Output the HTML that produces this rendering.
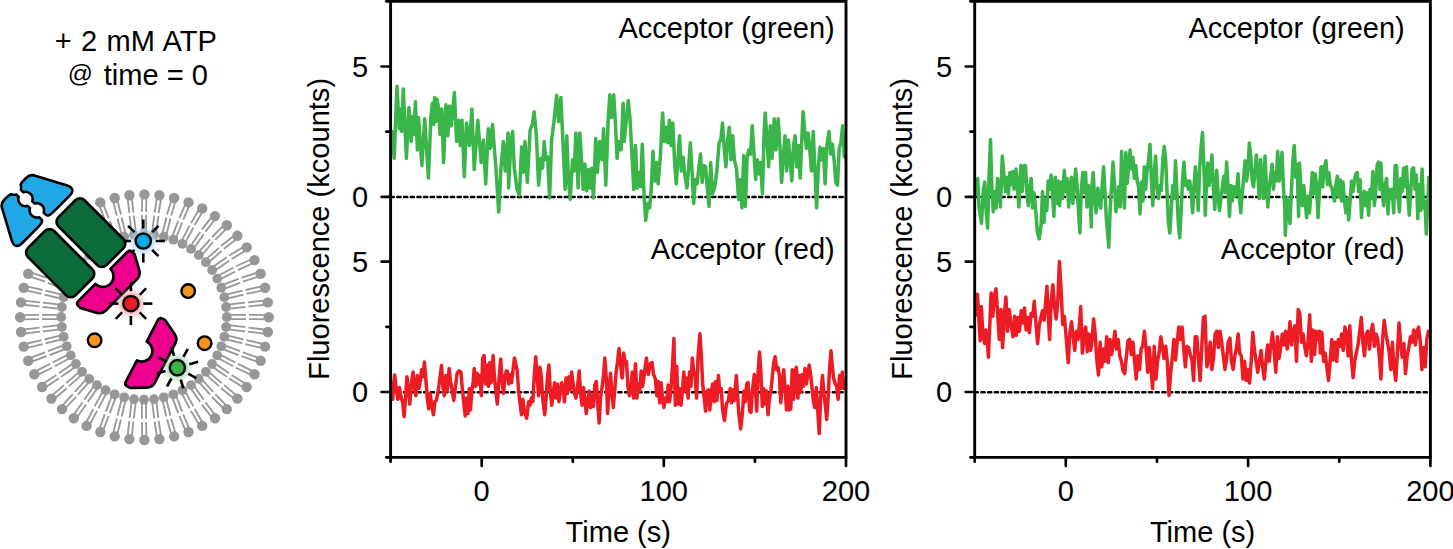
<!DOCTYPE html>
<html><head><meta charset="utf-8"><title>Figure</title><style>
html,body{margin:0;padding:0;background:#fff;}
body{width:1453px;height:549px;overflow:hidden;}
svg{display:block;}
text{font-family:"Liberation Sans",sans-serif;font-size:29.05px;fill:#000;}
</style></head><body>
<svg width="1453" height="549" viewBox="0 0 1453 549">
<rect width="1453" height="549" fill="#fff"/>

<g id="diagram">
<text x="135.9" y="50.6" text-anchor="middle" word-spacing="1.2">+ 2 mM ATP</text>
<text x="207.9" y="85.4" text-anchor="end" word-spacing="0">time = 0</text>
<text x="67.8" y="82.4" style="font-size:24.8px">@</text>
<g stroke="#979797" stroke-width="1.8"><line x1="268.7" y1="315.1" x2="249.0" y2="314.9"/><line x1="268.7" y1="319.3" x2="249.0" y2="319.1"/><line x1="226.7" y1="314.9" x2="246.0" y2="314.9"/><line x1="226.7" y1="319.1" x2="246.0" y2="319.1"/><line x1="268.0" y1="329.9" x2="248.5" y2="327.6"/><line x1="267.5" y1="334.1" x2="248.0" y2="331.7"/><line x1="226.4" y1="324.9" x2="245.5" y2="327.2"/><line x1="225.8" y1="329.1" x2="245.0" y2="331.4"/><line x1="265.6" y1="344.5" x2="246.5" y2="340.1"/><line x1="264.6" y1="348.6" x2="245.4" y2="344.2"/><line x1="224.8" y1="334.8" x2="243.5" y2="339.4"/><line x1="223.8" y1="338.8" x2="242.5" y2="343.4"/><line x1="261.4" y1="358.8" x2="242.9" y2="352.3"/><line x1="259.9" y1="362.7" x2="241.4" y2="356.2"/><line x1="222.1" y1="344.4" x2="240.1" y2="351.2"/><line x1="220.6" y1="348.3" x2="238.6" y2="355.1"/><line x1="255.4" y1="372.4" x2="237.9" y2="363.9"/><line x1="253.5" y1="376.1" x2="236.0" y2="367.7"/><line x1="218.2" y1="353.6" x2="235.3" y2="362.5"/><line x1="216.3" y1="357.3" x2="233.3" y2="366.3"/><line x1="247.9" y1="385.2" x2="231.6" y2="374.9"/><line x1="245.5" y1="388.7" x2="229.2" y2="378.4"/><line x1="213.3" y1="362.3" x2="229.1" y2="373.2"/><line x1="210.9" y1="365.7" x2="226.8" y2="376.7"/><line x1="238.8" y1="397.1" x2="224.0" y2="385.1"/><line x1="236.0" y1="400.2" x2="221.2" y2="388.2"/><line x1="207.3" y1="370.3" x2="221.7" y2="383.1"/><line x1="204.5" y1="373.4" x2="219.0" y2="386.2"/><line x1="228.4" y1="407.7" x2="215.2" y2="394.2"/><line x1="225.3" y1="410.5" x2="212.1" y2="397.0"/><line x1="200.4" y1="377.5" x2="213.2" y2="392.0"/><line x1="197.3" y1="380.3" x2="210.1" y2="394.7"/><line x1="216.7" y1="417.1" x2="205.4" y2="402.2"/><line x1="213.3" y1="419.5" x2="201.9" y2="404.6"/><line x1="192.7" y1="383.9" x2="203.7" y2="399.8"/><line x1="189.3" y1="386.3" x2="200.2" y2="402.1"/><line x1="204.0" y1="425.0" x2="194.7" y2="409.0"/><line x1="200.3" y1="426.9" x2="190.9" y2="410.9"/><line x1="184.3" y1="389.3" x2="193.3" y2="406.3"/><line x1="180.6" y1="391.2" x2="189.5" y2="408.3"/><line x1="190.4" y1="431.3" x2="183.2" y2="414.4"/><line x1="186.5" y1="432.8" x2="179.3" y2="415.9"/><line x1="175.3" y1="393.6" x2="182.1" y2="411.6"/><line x1="171.4" y1="395.1" x2="178.2" y2="413.1"/><line x1="176.2" y1="435.9" x2="171.2" y2="418.4"/><line x1="172.1" y1="436.9" x2="167.1" y2="419.5"/><line x1="165.8" y1="396.8" x2="170.4" y2="415.5"/><line x1="161.8" y1="397.8" x2="166.4" y2="416.5"/><line x1="161.5" y1="438.9" x2="158.7" y2="421.0"/><line x1="157.3" y1="439.4" x2="154.6" y2="421.5"/><line x1="156.1" y1="398.8" x2="158.4" y2="418.0"/><line x1="151.9" y1="399.4" x2="154.2" y2="418.5"/><line x1="146.5" y1="440.0" x2="146.1" y2="422.0"/><line x1="142.3" y1="440.0" x2="141.9" y2="422.0"/><line x1="146.1" y1="399.7" x2="146.1" y2="419.0"/><line x1="141.9" y1="399.7" x2="141.9" y2="419.0"/><line x1="131.5" y1="439.4" x2="133.4" y2="421.5"/><line x1="127.3" y1="438.9" x2="129.3" y2="421.0"/><line x1="136.1" y1="399.4" x2="133.8" y2="418.5"/><line x1="131.9" y1="398.8" x2="129.6" y2="418.0"/><line x1="116.7" y1="436.9" x2="120.9" y2="419.5"/><line x1="112.6" y1="435.9" x2="116.8" y2="418.4"/><line x1="126.2" y1="397.8" x2="121.6" y2="416.5"/><line x1="122.2" y1="396.8" x2="117.6" y2="415.5"/><line x1="102.3" y1="432.8" x2="108.7" y2="415.9"/><line x1="98.4" y1="431.3" x2="104.8" y2="414.4"/><line x1="116.6" y1="395.1" x2="109.8" y2="413.1"/><line x1="112.7" y1="393.6" x2="105.9" y2="411.6"/><line x1="88.5" y1="426.9" x2="97.1" y2="410.9"/><line x1="84.8" y1="425.0" x2="93.3" y2="409.0"/><line x1="107.4" y1="391.2" x2="98.5" y2="408.3"/><line x1="103.7" y1="389.3" x2="94.7" y2="406.3"/><line x1="75.5" y1="419.5" x2="86.1" y2="404.6"/><line x1="72.1" y1="417.1" x2="82.6" y2="402.2"/><line x1="98.7" y1="386.3" x2="87.8" y2="402.1"/><line x1="95.3" y1="383.9" x2="84.3" y2="399.8"/><line x1="63.5" y1="410.5" x2="75.9" y2="397.0"/><line x1="60.4" y1="407.7" x2="72.8" y2="394.2"/><line x1="90.7" y1="380.3" x2="77.9" y2="394.7"/><line x1="87.6" y1="377.5" x2="74.8" y2="392.0"/><line x1="52.8" y1="400.2" x2="66.8" y2="388.2"/><line x1="50.0" y1="397.1" x2="64.0" y2="385.1"/><line x1="83.5" y1="373.4" x2="69.0" y2="386.2"/><line x1="80.7" y1="370.3" x2="66.3" y2="383.1"/><line x1="43.3" y1="388.7" x2="58.8" y2="378.4"/><line x1="40.9" y1="385.2" x2="56.4" y2="374.9"/><line x1="77.1" y1="365.7" x2="61.2" y2="376.7"/><line x1="74.7" y1="362.3" x2="58.9" y2="373.2"/><line x1="35.3" y1="376.1" x2="52.0" y2="367.7"/><line x1="33.4" y1="372.4" x2="50.1" y2="363.9"/><line x1="71.7" y1="357.3" x2="54.7" y2="366.3"/><line x1="69.8" y1="353.6" x2="52.7" y2="362.5"/><line x1="28.9" y1="362.7" x2="46.6" y2="356.2"/><line x1="27.4" y1="358.8" x2="45.1" y2="352.3"/><line x1="67.4" y1="348.3" x2="49.4" y2="355.1"/><line x1="65.9" y1="344.4" x2="47.9" y2="351.2"/><line x1="24.2" y1="348.6" x2="42.6" y2="344.2"/><line x1="23.2" y1="344.5" x2="41.5" y2="340.1"/><line x1="64.2" y1="338.8" x2="45.5" y2="343.4"/><line x1="63.2" y1="334.8" x2="44.5" y2="339.4"/><line x1="21.3" y1="334.1" x2="40.0" y2="331.7"/><line x1="20.8" y1="329.9" x2="39.5" y2="327.6"/><line x1="62.2" y1="329.1" x2="43.0" y2="331.4"/><line x1="61.6" y1="324.9" x2="42.5" y2="327.2"/><line x1="20.1" y1="319.3" x2="39.0" y2="319.1"/><line x1="20.1" y1="315.1" x2="39.0" y2="314.9"/><line x1="61.3" y1="319.1" x2="42.0" y2="319.1"/><line x1="61.3" y1="314.9" x2="42.0" y2="314.9"/><line x1="20.8" y1="304.5" x2="39.5" y2="306.4"/><line x1="21.3" y1="300.3" x2="40.0" y2="302.3"/><line x1="61.6" y1="309.1" x2="42.5" y2="306.8"/><line x1="62.2" y1="304.9" x2="43.0" y2="302.6"/><line x1="23.2" y1="289.9" x2="41.5" y2="293.9"/><line x1="24.2" y1="285.8" x2="42.6" y2="289.8"/><line x1="63.2" y1="299.2" x2="44.5" y2="294.6"/><line x1="64.2" y1="295.2" x2="45.5" y2="290.6"/><line x1="27.4" y1="275.6" x2="45.1" y2="281.7"/><line x1="28.9" y1="271.7" x2="46.6" y2="277.8"/><line x1="65.9" y1="289.6" x2="47.9" y2="282.8"/><line x1="67.4" y1="285.7" x2="49.4" y2="278.9"/><line x1="69.8" y1="280.4" x2="52.7" y2="271.5"/><line x1="71.7" y1="276.7" x2="54.7" y2="267.7"/><line x1="74.7" y1="271.7" x2="58.9" y2="260.8"/><line x1="77.1" y1="268.3" x2="61.2" y2="257.3"/><line x1="80.7" y1="263.7" x2="66.3" y2="250.9"/><line x1="83.5" y1="260.6" x2="69.0" y2="247.8"/><line x1="87.6" y1="256.5" x2="74.8" y2="242.0"/><line x1="90.7" y1="253.7" x2="77.9" y2="239.3"/><line x1="95.3" y1="250.1" x2="84.3" y2="234.2"/><line x1="98.7" y1="247.7" x2="87.8" y2="231.9"/><line x1="103.7" y1="244.7" x2="94.7" y2="227.7"/><line x1="107.4" y1="242.8" x2="98.5" y2="225.7"/><line x1="98.4" y1="203.1" x2="104.8" y2="219.6"/><line x1="102.3" y1="201.6" x2="108.7" y2="218.1"/><line x1="112.7" y1="240.4" x2="105.9" y2="222.4"/><line x1="116.6" y1="238.9" x2="109.8" y2="220.9"/><line x1="112.6" y1="198.5" x2="116.8" y2="215.6"/><line x1="116.7" y1="197.5" x2="120.9" y2="214.5"/><line x1="122.2" y1="237.2" x2="117.6" y2="218.5"/><line x1="126.2" y1="236.2" x2="121.6" y2="217.5"/><line x1="127.3" y1="195.5" x2="129.3" y2="213.0"/><line x1="131.5" y1="195.0" x2="133.4" y2="212.5"/><line x1="131.9" y1="235.2" x2="129.6" y2="216.0"/><line x1="136.1" y1="234.6" x2="133.8" y2="215.5"/><line x1="142.3" y1="194.4" x2="141.9" y2="212.0"/><line x1="146.5" y1="194.4" x2="146.1" y2="212.0"/><line x1="141.9" y1="234.3" x2="141.9" y2="215.0"/><line x1="146.1" y1="234.3" x2="146.1" y2="215.0"/><line x1="157.3" y1="195.0" x2="154.6" y2="212.5"/><line x1="161.5" y1="195.5" x2="158.7" y2="213.0"/><line x1="151.9" y1="234.6" x2="154.2" y2="215.5"/><line x1="156.1" y1="235.2" x2="158.4" y2="216.0"/><line x1="172.1" y1="197.5" x2="167.1" y2="214.5"/><line x1="176.2" y1="198.5" x2="171.2" y2="215.6"/><line x1="161.8" y1="236.2" x2="166.4" y2="217.5"/><line x1="165.8" y1="237.2" x2="170.4" y2="218.5"/><line x1="186.5" y1="201.6" x2="179.3" y2="218.1"/><line x1="190.4" y1="203.1" x2="183.2" y2="219.6"/><line x1="171.4" y1="238.9" x2="178.2" y2="220.9"/><line x1="175.3" y1="240.4" x2="182.1" y2="222.4"/><line x1="200.3" y1="207.5" x2="190.9" y2="223.1"/><line x1="204.0" y1="209.4" x2="194.7" y2="225.0"/><line x1="180.6" y1="242.8" x2="189.5" y2="225.7"/><line x1="184.3" y1="244.7" x2="193.3" y2="227.7"/><line x1="213.3" y1="214.9" x2="201.9" y2="229.4"/><line x1="216.7" y1="217.3" x2="205.4" y2="231.8"/><line x1="189.3" y1="247.7" x2="200.2" y2="231.9"/><line x1="192.7" y1="250.1" x2="203.7" y2="234.2"/><line x1="225.3" y1="223.9" x2="212.1" y2="237.0"/><line x1="228.4" y1="226.7" x2="215.2" y2="239.8"/><line x1="197.3" y1="253.7" x2="210.1" y2="239.3"/><line x1="200.4" y1="256.5" x2="213.2" y2="242.0"/><line x1="236.0" y1="234.2" x2="221.2" y2="245.8"/><line x1="238.8" y1="237.3" x2="224.0" y2="248.9"/><line x1="204.5" y1="260.6" x2="219.0" y2="247.8"/><line x1="207.3" y1="263.7" x2="221.7" y2="250.9"/><line x1="245.5" y1="245.7" x2="229.2" y2="255.6"/><line x1="247.9" y1="249.2" x2="231.6" y2="259.1"/><line x1="210.9" y1="268.3" x2="226.8" y2="257.3"/><line x1="213.3" y1="271.7" x2="229.1" y2="260.8"/><line x1="253.5" y1="258.3" x2="236.0" y2="266.3"/><line x1="255.4" y1="262.0" x2="237.9" y2="270.1"/><line x1="216.3" y1="276.7" x2="233.3" y2="267.7"/><line x1="218.2" y1="280.4" x2="235.3" y2="271.5"/><line x1="259.9" y1="271.7" x2="241.4" y2="277.8"/><line x1="261.4" y1="275.6" x2="242.9" y2="281.7"/><line x1="220.6" y1="285.7" x2="238.6" y2="278.9"/><line x1="222.1" y1="289.6" x2="240.1" y2="282.8"/><line x1="264.6" y1="285.8" x2="245.4" y2="289.8"/><line x1="265.6" y1="289.9" x2="246.5" y2="293.9"/><line x1="223.8" y1="295.2" x2="242.5" y2="290.6"/><line x1="224.8" y1="299.2" x2="243.5" y2="294.6"/><line x1="267.5" y1="300.3" x2="248.0" y2="302.3"/><line x1="268.0" y1="304.5" x2="248.5" y2="306.4"/><line x1="225.8" y1="304.9" x2="245.0" y2="302.6"/><line x1="226.4" y1="309.1" x2="245.5" y2="306.8"/></g>
<g fill="#979797"><circle cx="268.7" cy="317.2" r="5.2"/><circle cx="226.7" cy="317.0" r="4.9"/><circle cx="267.8" cy="332.0" r="5.2"/><circle cx="226.1" cy="327.0" r="4.9"/><circle cx="265.1" cy="346.6" r="5.2"/><circle cx="224.3" cy="336.8" r="4.9"/><circle cx="260.6" cy="360.7" r="5.2"/><circle cx="221.3" cy="346.3" r="4.9"/><circle cx="254.5" cy="374.3" r="5.2"/><circle cx="217.2" cy="355.4" r="4.9"/><circle cx="246.7" cy="387.0" r="5.2"/><circle cx="212.1" cy="364.0" r="4.9"/><circle cx="237.4" cy="398.6" r="5.2"/><circle cx="205.9" cy="371.8" r="4.9"/><circle cx="226.8" cy="409.1" r="5.2"/><circle cx="198.8" cy="378.9" r="4.9"/><circle cx="215.0" cy="418.3" r="5.2"/><circle cx="191.0" cy="385.1" r="4.9"/><circle cx="202.2" cy="425.9" r="5.2"/><circle cx="182.4" cy="390.2" r="4.9"/><circle cx="188.5" cy="432.0" r="5.2"/><circle cx="173.3" cy="394.3" r="4.9"/><circle cx="174.1" cy="436.4" r="5.2"/><circle cx="163.8" cy="397.3" r="4.9"/><circle cx="159.4" cy="439.1" r="5.2"/><circle cx="154.0" cy="399.1" r="4.9"/><circle cx="144.4" cy="440.0" r="5.2"/><circle cx="144.0" cy="399.7" r="4.9"/><circle cx="129.4" cy="439.1" r="5.2"/><circle cx="134.0" cy="399.1" r="4.9"/><circle cx="114.7" cy="436.4" r="5.2"/><circle cx="124.2" cy="397.3" r="4.9"/><circle cx="100.3" cy="432.0" r="5.2"/><circle cx="114.7" cy="394.3" r="4.9"/><circle cx="86.6" cy="425.9" r="5.2"/><circle cx="105.6" cy="390.2" r="4.9"/><circle cx="73.8" cy="418.3" r="5.2"/><circle cx="97.0" cy="385.1" r="4.9"/><circle cx="62.0" cy="409.1" r="5.2"/><circle cx="89.2" cy="378.9" r="4.9"/><circle cx="51.4" cy="398.6" r="5.2"/><circle cx="82.1" cy="371.8" r="4.9"/><circle cx="42.1" cy="387.0" r="5.2"/><circle cx="75.9" cy="364.0" r="4.9"/><circle cx="34.3" cy="374.3" r="5.2"/><circle cx="70.8" cy="355.4" r="4.9"/><circle cx="28.2" cy="360.7" r="5.2"/><circle cx="66.7" cy="346.3" r="4.9"/><circle cx="23.7" cy="346.6" r="5.2"/><circle cx="63.7" cy="336.8" r="4.9"/><circle cx="21.0" cy="332.0" r="5.2"/><circle cx="61.9" cy="327.0" r="4.9"/><circle cx="20.1" cy="317.2" r="5.2"/><circle cx="61.3" cy="317.0" r="4.9"/><circle cx="21.0" cy="302.4" r="5.2"/><circle cx="61.9" cy="307.0" r="4.9"/><circle cx="23.7" cy="287.8" r="5.2"/><circle cx="63.7" cy="297.2" r="4.9"/><circle cx="28.2" cy="273.7" r="5.2"/><circle cx="66.7" cy="287.7" r="4.9"/><circle cx="70.8" cy="278.6" r="4.9"/><circle cx="75.9" cy="270.0" r="4.9"/><circle cx="82.1" cy="262.2" r="4.9"/><circle cx="89.2" cy="255.1" r="4.9"/><circle cx="97.0" cy="248.9" r="4.9"/><circle cx="105.6" cy="243.8" r="4.9"/><circle cx="100.3" cy="202.4" r="5.2"/><circle cx="114.7" cy="239.7" r="4.9"/><circle cx="114.7" cy="198.0" r="5.2"/><circle cx="124.2" cy="236.7" r="4.9"/><circle cx="129.4" cy="195.3" r="5.2"/><circle cx="134.0" cy="234.9" r="4.9"/><circle cx="144.4" cy="194.4" r="5.2"/><circle cx="144.0" cy="234.3" r="4.9"/><circle cx="159.4" cy="195.3" r="5.2"/><circle cx="154.0" cy="234.9" r="4.9"/><circle cx="174.1" cy="198.0" r="5.2"/><circle cx="163.8" cy="236.7" r="4.9"/><circle cx="188.5" cy="202.4" r="5.2"/><circle cx="173.3" cy="239.7" r="4.9"/><circle cx="202.2" cy="208.5" r="5.2"/><circle cx="182.4" cy="243.8" r="4.9"/><circle cx="215.0" cy="216.1" r="5.2"/><circle cx="191.0" cy="248.9" r="4.9"/><circle cx="226.8" cy="225.3" r="5.2"/><circle cx="198.8" cy="255.1" r="4.9"/><circle cx="237.4" cy="235.8" r="5.2"/><circle cx="205.9" cy="262.2" r="4.9"/><circle cx="246.7" cy="247.4" r="5.2"/><circle cx="212.1" cy="270.0" r="4.9"/><circle cx="254.5" cy="260.1" r="5.2"/><circle cx="217.2" cy="278.6" r="4.9"/><circle cx="260.6" cy="273.7" r="5.2"/><circle cx="221.3" cy="287.7" r="4.9"/><circle cx="265.1" cy="287.8" r="5.2"/><circle cx="224.3" cy="297.2" r="4.9"/><circle cx="267.8" cy="302.4" r="5.2"/><circle cx="226.1" cy="307.0" r="4.9"/></g>
<radialGradient id="gb"><stop offset="0.55" stop-color="#a9dcf5" stop-opacity="0.8"/><stop offset="1" stop-color="#a9dcf5" stop-opacity="0"/></radialGradient><circle cx="143.3" cy="241.0" r="15.5" fill="url(#gb)"/><g stroke="#000" stroke-width="2.6"><line x1="155.7" y1="241.0" x2="164.8" y2="241.0"/><line x1="152.1" y1="249.8" x2="158.5" y2="256.2"/><line x1="143.3" y1="253.4" x2="143.3" y2="262.5"/><line x1="134.5" y1="249.8" x2="128.1" y2="256.2"/><line x1="130.9" y1="241.0" x2="121.8" y2="241.0"/><line x1="134.5" y1="232.2" x2="128.1" y2="225.8"/><line x1="143.3" y1="228.6" x2="143.3" y2="219.5"/><line x1="152.1" y1="232.2" x2="158.5" y2="225.8"/></g><circle cx="143.3" cy="241.0" r="7.6" fill="#00aeef" stroke="#000" stroke-width="2.5"/>
<rect x="194.85000000000002" y="3.2" width="67.9" height="36.9" rx="6.5" ry="6.5" transform="matrix(0.70710678,0.70710678,0.70710678,-0.70710678,-86.19631648200001,86.19631648200001)" fill="#0b6b3a" stroke="#000" stroke-width="2.6"/>
<rect x="195.10000000000002" y="3.2" width="67.1" height="36.9" rx="6.5" ry="6.5" transform="matrix(0.70710678,0.70710678,-0.70710678,0.70710678,-86.19631648200001,86.19631648200001)" fill="#0b6b3a" stroke="#000" stroke-width="2.6"/>
<path d="M145.2,6.71 Q144.3,8.5 144.3,11 L144.3,15.5 Q144.3,21.6 150,23.7 L178,38.8 Q187.6,43.6 187.6,33 L187.6,11 Q187.6,3.25 184.48,3.25 L181.22,3.25 A7.2,7.2 0 0 1 168.38,3.25 L165.12,3.25 A7.2,7.2 0 0 1 152.28,3.25 L149.02,3.25 A7.2,7.2 0 0 1 145.2,6.71 Z" transform="matrix(0.70710678,0.70710678,0.70710678,-0.70710678,-86.76200190600001,86.76200190600001)" fill="#22a7e6" stroke="#000" stroke-width="2.6" stroke-linejoin="round"/>
<path d="M145.2,6.71 Q144.3,8.5 144.3,11 L144.3,15.5 Q144.3,21.6 150,23.7 L178,38.8 Q187.6,43.6 187.6,33 L187.6,11 Q187.6,3.25 184.48,3.25 L181.22,3.25 A7.2,7.2 0 0 1 168.38,3.25 L165.12,3.25 A7.2,7.2 0 0 1 152.28,3.25 L149.02,3.25 A7.2,7.2 0 0 1 145.2,6.71 Z" transform="matrix(0.70710678,0.70710678,-0.70710678,0.70710678,-86.76200190600001,86.76200190600001)" fill="#22a7e6" stroke="#000" stroke-width="2.6" stroke-linejoin="round"/>
<path d="M268.2,10.6 L268.2,34.6 Q268.2,38.2 271.59999999999997,38.2 L274.8,38.2 L289.2,30.4 Q294.4,27.6 294.4,22 L294.4,-22 Q294.4,-27.6 289.2,-30.4 L274.8,-38.2 L271.59999999999997,-38.2 Q268.2,-38.2 268.2,-34.6 L268.2,-10.6 A10.6,10.6 0 0 1 268.2,10.6 Z" transform="matrix(0.70710678,0.70710678,0.70710678,-0.70710678,-86.76200190600001,86.76200190600001)" fill="#ec008c" stroke="#000" stroke-width="2.6" stroke-linejoin="round"/>
<path d="M268.2,10.6 L268.2,34.6 Q268.2,38.2 271.59999999999997,38.2 L274.8,38.2 L289.2,30.4 Q294.4,27.6 294.4,22 L294.4,-22 Q294.4,-27.6 289.2,-30.4 L274.8,-38.2 L271.59999999999997,-38.2 Q268.2,-38.2 268.2,-34.6 L268.2,-10.6 A10.6,10.6 0 0 1 268.2,10.6 Z" transform="matrix(0.88701,0.46175,0.46175,-0.88701,-96.096,227.159)" fill="#ec008c" stroke="#000" stroke-width="2.6" stroke-linejoin="round"/>
<circle cx="188.2" cy="291.1" r="6.8" fill="#f7931e" stroke="#000" stroke-width="2.4"/>
<circle cx="94.6" cy="340.3" r="6.8" fill="#f7931e" stroke="#000" stroke-width="2.4"/>
<circle cx="204.6" cy="343.2" r="6.8" fill="#f7931e" stroke="#000" stroke-width="2.4"/>
<radialGradient id="gr"><stop offset="0.55" stop-color="#f5a3a6" stop-opacity="0.8"/><stop offset="1" stop-color="#f5a3a6" stop-opacity="0"/></radialGradient><circle cx="130.9" cy="303.6" r="15.5" fill="url(#gr)"/><g stroke="#000" stroke-width="2.6"><line x1="143.3" y1="303.6" x2="152.4" y2="303.6"/><line x1="139.7" y1="312.4" x2="146.1" y2="318.8"/><line x1="130.9" y1="316.0" x2="130.9" y2="325.1"/><line x1="122.1" y1="312.4" x2="115.7" y2="318.8"/><line x1="118.5" y1="303.6" x2="109.4" y2="303.6"/><line x1="122.1" y1="294.8" x2="115.7" y2="288.4"/><line x1="130.9" y1="291.2" x2="130.9" y2="282.1"/><line x1="139.7" y1="294.8" x2="146.1" y2="288.4"/></g><circle cx="130.9" cy="303.6" r="7.6" fill="#ed1c24" stroke="#000" stroke-width="2.5"/>
<radialGradient id="gg"><stop offset="0.55" stop-color="#a6dcae" stop-opacity="0.8"/><stop offset="1" stop-color="#a6dcae" stop-opacity="0"/></radialGradient><circle cx="177.4" cy="367.7" r="15.5" fill="url(#gg)"/><g stroke="#000" stroke-width="2.6"><line x1="189.3" y1="364.3" x2="198.1" y2="361.8"/><line x1="188.2" y1="373.7" x2="196.2" y2="378.1"/><line x1="180.8" y1="379.6" x2="183.3" y2="388.4"/><line x1="171.4" y1="378.5" x2="167.0" y2="386.5"/><line x1="165.5" y1="371.1" x2="156.7" y2="373.6"/><line x1="166.6" y1="361.7" x2="158.6" y2="357.3"/><line x1="174.0" y1="355.8" x2="171.5" y2="347.0"/><line x1="183.4" y1="356.9" x2="187.8" y2="348.9"/></g><circle cx="177.4" cy="367.7" r="7.6" fill="#39b54a" stroke="#000" stroke-width="2.5"/>
</g>
<g id="panel1">
<line x1="390.6" y1="196.9" x2="846.0" y2="196.9" stroke="#000" stroke-width="2.5" stroke-dasharray="3.2 3.5" stroke-linecap="round"/>
<line x1="390.6" y1="392.3" x2="846.0" y2="392.3" stroke="#000" stroke-width="2.5" stroke-dasharray="3.2 3.5" stroke-linecap="round"/>
<path d="M392.0,131.5 L394.2,158.3 L397.0,86.3 L399.3,128.7 L400.4,108.9 L401.6,131.5 L403.3,89.1 L406.4,158.3 L408.9,107.5 L411.2,141.4 L412.9,116.0 L414.0,134.3 L415.4,101.8 L417.4,149.9 L418.5,117.4 L421.9,165.4 L424.7,118.8 L428.4,178.1 L430.9,117.4 L432.4,103.2 L433.5,124.4 L434.6,97.6 L435.7,121.6 L436.9,99.0 L438.3,106.1 L440.0,134.3 L441.7,108.9 L443.6,162.6 L445.9,104.7 L447.9,135.7 L449.6,106.1 L451.3,125.8 L454.4,92.5 L456.6,141.4 L458.6,120.2 L460.3,145.6 L462.0,120.2 L464.3,176.7 L466.5,123.0 L469.4,145.6 L471.9,108.9 L474.2,169.6 L477.8,120.2 L481.2,162.6 L483.5,140.0 L485.7,183.8 L488.3,128.7 L490.3,148.4 L492.5,124.4 L495.9,168.2 L498.7,212.0 L501.0,168.2 L503.3,141.4 L505.2,171.0 L508.1,132.9 L508.6,188.0 L510.9,142.8 L512.6,131.5 L514.3,168.2 L517.1,189.4 L519.4,195.1 L521.6,147.0 L523.3,172.5 L525.0,141.4 L527.3,182.3 L530.1,130.1 L532.4,124.4 L534.1,111.7 L536.3,134.3 L538.6,185.2 L540.9,158.3 L542.5,168.2 L544.2,141.4 L545.9,159.7 L547.6,156.9 L549.6,197.9 L551.6,140.0 L553.8,123.0 L556.7,95.3 L558.6,121.6 L560.9,97.6 L562.9,141.4 L565.1,189.4 L566.8,135.7 L568.5,180.9 L570.2,199.3 L572.5,159.7 L574.2,171.0 L575.9,132.9 L578.1,188.0 L579.8,132.9 L582.1,168.2 L583.2,189.4 L584.9,164.0 L586.6,190.8 L588.3,169.6 L590.0,188.0 L591.7,168.2 L593.4,197.9 L595.7,138.6 L597.4,172.5 L599.6,141.4 L601.9,159.7 L603.6,128.7 L605.8,185.2 L608.1,121.6 L609.8,94.8 L611.5,117.4 L613.7,94.8 L615.4,123.0 L617.1,158.3 L618.8,141.4 L621.1,149.9 L623.1,103.2 L624.2,141.4 L625.9,124.4 L628.2,100.4 L629.9,117.4 L632.1,156.9 L633.8,189.4 L635.5,145.6 L637.2,188.0 L638.9,172.5 L640.6,186.6 L642.3,144.2 L644.0,193.6 L645.7,220.5 L647.9,203.5 L649.6,207.8 L651.3,188.0 L653.0,151.3 L654.7,180.9 L656.4,162.6 L658.1,183.8 L660.4,155.5 L662.6,113.1 L664.3,141.4 L666.0,127.3 L667.7,142.8 L669.4,120.2 L671.1,145.6 L672.8,123.0 L674.5,159.7 L676.2,183.8 L677.9,159.7 L679.6,135.7 L681.3,171.0 L683.0,156.9 L684.7,173.9 L686.9,188.0 L688.6,168.2 L690.3,142.8 L692.0,171.0 L693.7,203.5 L695.4,179.5 L697.1,183.8 L698.8,168.2 L700.5,154.1 L702.2,182.3 L703.9,165.4 L705.6,166.8 L707.3,188.0 L709.0,206.4 L710.7,162.6 L712.4,193.6 L714.6,188.0 L716.9,171.0 L719.1,142.8 L720.8,140.0 L722.5,123.0 L724.2,148.4 L725.9,166.8 L727.6,140.0 L729.3,127.3 L731.0,159.7 L732.7,135.7 L734.4,159.7 L736.6,169.6 L737.0,176.7 L738.6,199.3 L740.3,179.5 L742.0,207.8 L743.7,155.5 L745.4,206.4 L747.1,158.3 L748.8,149.9 L750.5,154.1 L752.2,125.8 L753.9,151.3 L755.6,179.5 L757.3,159.7 L759.0,173.9 L760.7,162.6 L762.4,193.6 L764.1,132.9 L765.2,113.1 L766.9,137.1 L768.6,166.8 L770.3,125.8 L772.0,158.3 L774.2,118.8 L775.9,149.9 L778.2,118.8 L779.9,145.6 L781.6,182.3 L783.3,156.9 L785.0,135.7 L786.7,171.0 L788.4,140.0 L790.1,159.7 L791.8,180.9 L793.5,145.6 L795.1,135.7 L796.8,166.8 L798.5,145.6 L800.2,178.1 L801.9,137.1 L803.1,111.7 L804.8,132.9 L806.4,148.4 L808.1,132.9 L809.8,149.9 L811.5,171.0 L813.2,131.5 L814.9,168.2 L816.6,207.8 L818.3,168.2 L820.0,147.0 L821.7,159.7 L823.4,148.4 L825.1,183.8 L826.8,145.6 L829.0,131.5 L830.7,154.1 L832.4,144.2 L834.1,159.7 L835.8,182.3 L837.5,185.2 L839.2,148.4 L840.9,142.8 L842.6,125.8 L844.3,156.9 L845,141.4" fill="none" stroke="#39b54a" stroke-width="3.5" stroke-linejoin="round" stroke-linecap="round"/>
<path d="M391.5,382.7 L392.7,399.3 L394.6,374.9 L396.5,391.0 L397.9,399.3 L399.4,387.5 L401.3,398.1 L402.7,402.8 L404.1,416.6 L406.0,391.0 L406.9,376.8 L408.4,388.6 L409.8,404.0 L411.2,385.1 L413.1,372.1 L414.5,388.6 L415.9,395.7 L417.3,375.6 L418.8,388.6 L420.2,381.5 L421.6,369.7 L423.0,376.8 L424.4,362.1 L425.9,380.4 L427.3,398.1 L428.7,408.8 L430.1,393.4 L431.6,404.0 L433.4,414.7 L434.9,401.7 L436.3,400.5 L438.2,391.0 L440.1,376.8 L441.5,365.4 L442.9,386.3 L444.3,395.7 L445.8,375.6 L447.2,391.0 L449.1,368.5 L450.5,381.5 L451.9,388.6 L453.8,400.5 L455.2,388.6 L457.1,373.3 L459.0,370.9 L460.9,372.1 L462.3,388.6 L463.7,401.7 L465.2,415.9 L466.6,398.1 L468.0,413.5 L469.4,388.6 L470.4,409.9 L471.8,391.0 L473.2,381.5 L474.2,368.5 L475.6,386.3 L477.0,373.3 L478.4,383.9 L479.8,375.6 L481.3,395.7 L482.7,357.9 L484.1,355.5 L485.5,383.9 L486.9,365.0 L488.4,386.3 L489.8,362.6 L491.2,382.7 L493.1,355.5 L494.5,378.0 L495.9,391.0 L497.3,404.0 L498.8,381.5 L500.7,359.1 L502.1,381.5 L503.5,393.4 L504.9,376.8 L506.3,370.9 L507.3,370.9 L508.7,383.9 L510.1,374.4 L511.5,382.7 L512.9,370.9 L514.4,357.9 L515.8,363.8 L517.2,370.9 L518.6,391.0 L520.0,402.8 L521.5,414.7 L522.9,399.3 L524.3,411.1 L526.7,418.2 L528.6,401.7 L530.0,405.2 L531.4,398.1 L532.8,401.7 L534.2,376.8 L535.7,356.7 L537.1,374.4 L538.5,395.7 L539.9,367.3 L541.3,376.8 L542.8,399.3 L544.7,414.7 L546.1,398.1 L547.5,376.8 L548.9,365.0 L550.3,391.0 L551.8,405.2 L553.2,393.4 L554.6,382.7 L556.0,398.1 L557.4,383.9 L558.9,401.7 L560.3,392.2 L561.7,382.7 L563.1,388.6 L564.5,401.7 L566.0,378.0 L567.4,393.4 L568.8,376.8 L570.2,389.8 L571.6,372.1 L573.1,383.9 L574.5,393.4 L575.9,398.1 L577.3,388.6 L579.2,370.9 L580.6,393.4 L582.1,405.2 L583.5,387.5 L584.9,400.5 L586.3,413.5 L587.7,400.5 L589.2,391.0 L590.6,407.6 L592.0,395.7 L593.4,406.4 L594.8,385.1 L596.3,381.5 L597.7,402.8 L599.1,423.0 L600.5,398.1 L601.9,388.6 L603.4,376.8 L604.8,357.9 L606.2,376.8 L607.6,413.5 L609.0,391.0 L610.5,373.3 L611.9,393.4 L613.3,407.6 L614.7,391.0 L616.1,372.1 L617.6,361.4 L619.0,348.4 L620.4,362.6 L621.8,376.8 L622.3,378.0 L623.7,353.1 L625.1,363.8 L626.5,361.4 L627.9,386.3 L629.4,395.7 L630.8,389.8 L632.2,372.1 L633.6,398.1 L635.5,363.8 L636.9,398.1 L638.4,383.9 L639.8,391.0 L641.2,370.9 L642.6,386.3 L644.0,376.8 L646.4,357.9 L648.3,374.4 L650.2,363.8 L652.1,362.6 L653.5,374.4 L655.4,379.2 L656.8,395.7 L658.2,381.5 L659.7,402.8 L661.1,382.7 L662.5,398.1 L663.9,407.6 L665.3,398.1 L666.8,401.7 L668.2,385.1 L669.6,401.7 L671.0,388.6 L672.4,367.3 L673.9,338.5 L675.3,405.2 L676.7,366.2 L678.1,404.0 L679.5,388.6 L681.0,405.2 L682.4,391.0 L683.8,372.1 L685.2,391.0 L686.6,378.0 L688.1,398.1 L689.5,372.1 L690.9,386.3 L692.3,357.9 L693.7,370.9 L695.2,376.8 L696.6,398.1 L698.0,357.9 L699.9,333.7 L701.3,355.5 L702.7,383.9 L704.2,398.1 L705.6,411.1 L707.0,391.0 L708.4,389.8 L709.8,409.9 L711.3,391.0 L712.7,383.9 L714.1,401.7 L715.5,381.5 L716.9,400.5 L718.4,375.6 L719.8,391.0 L721.2,388.6 L722.6,409.9 L724.5,420.6 L726.4,404.0 L728.3,400.5 L730.2,388.6 L731.6,402.8 L733.0,389.8 L734.4,400.5 L736.3,375.6 L737.3,391.0 L738.7,412.3 L740.6,428.9 L742.5,412.3 L743.9,391.0 L745.3,401.7 L746.7,383.9 L748.1,382.7 L749.6,411.1 L751.0,412.3 L752.4,391.0 L754.3,374.4 L755.7,393.4 L756.7,411.1 L758.1,372.1 L759.5,352.0 L760.9,372.1 L762.3,406.4 L763.8,388.6 L765.2,404.0 L766.6,391.0 L768.0,414.7 L769.4,398.1 L770.9,391.0 L772.3,376.8 L773.7,362.6 L775.1,356.7 L776.6,369.7 L778.0,367.3 L779.4,375.6 L780.8,402.8 L782.2,383.9 L783.7,369.7 L785.1,388.6 L786.5,409.9 L787.9,386.3 L789.3,409.9 L790.8,408.8 L792.2,369.7 L793.6,399.3 L795.0,370.9 L796.4,367.3 L797.9,398.1 L799.3,375.6 L800.7,392.2 L802.1,374.4 L803.5,386.3 L805.0,368.5 L806.4,383.9 L807.8,374.4 L809.2,365.0 L810.6,374.4 L812.1,388.6 L813.5,401.7 L814.9,407.6 L816.3,387.5 L817.7,409.9 L819.2,433.6 L820.6,398.1 L822.5,375.6 L823.9,393.4 L825.3,405.2 L826.7,419.4 L828.1,398.1 L829.6,367.3 L831.0,350.8 L832.4,367.3 L833.8,379.2 L835.2,383.9 L836.7,386.3 L838.1,399.3 L839.5,375.6 L840.9,388.6 L842.3,372.1 L843.8,388.6 L845,381.5" fill="none" stroke="#ed1c24" stroke-width="3.5" stroke-linejoin="round" stroke-linecap="round"/>
<path d="M390.6,457.4 L390.6,1.3 L846.0,1.3 L846.0,457.4 Z" fill="none" stroke="#000" stroke-width="2.9" stroke-linejoin="miter"/>
<g stroke="#000" stroke-width="2.7" stroke-linecap="round"><line x1="386.3" y1="1.3" x2="390.6" y2="1.3"/><line x1="381.6" y1="66.5" x2="390.6" y2="66.5"/><line x1="386.3" y1="131.6" x2="390.6" y2="131.6"/><line x1="381.6" y1="196.8" x2="390.6" y2="196.8"/><line x1="381.6" y1="261.6" x2="390.6" y2="261.6"/><line x1="386.3" y1="326.8" x2="390.6" y2="326.8"/><line x1="381.6" y1="392.0" x2="390.6" y2="392.0"/><line x1="386.3" y1="457.4" x2="390.6" y2="457.4"/><line x1="390.6" y1="457.4" x2="390.6" y2="461.7"/><line x1="481.7" y1="457.4" x2="481.7" y2="466.0"/><line x1="572.8" y1="457.4" x2="572.8" y2="461.7"/><line x1="663.8" y1="457.4" x2="663.8" y2="466.0"/><line x1="754.9" y1="457.4" x2="754.9" y2="461.7"/><line x1="846.0" y1="457.4" x2="846.0" y2="466.0"/></g>
<text x="368.1" y="76.8" text-anchor="end">5</text>
<text x="368.1" y="207.10000000000002" text-anchor="end">0</text>
<text x="368.1" y="271.90000000000003" text-anchor="end">5</text>
<text x="368.1" y="402.3" text-anchor="end">0</text>
<text x="481.7" y="500.8" text-anchor="middle">0</text>
<text x="663.8" y="500.8" text-anchor="middle">100</text>
<text x="846.0" y="500.8" text-anchor="middle">200</text>
<text x="618.3" y="542.1" text-anchor="middle">Time (s)</text>
<text transform="translate(329.1,228.9) rotate(-90)" text-anchor="middle">Fluorescence (kcounts)</text>
<text x="834.8" y="37.6" text-anchor="end">Acceptor (green)</text>
<text x="834.8" y="258.7" text-anchor="end">Acceptor (red)</text>
</g>
<g id="panel2">
<line x1="974.7" y1="196.9" x2="1430.4" y2="196.9" stroke="#000" stroke-width="2.5" stroke-dasharray="3.2 3.5" stroke-linecap="round"/>
<line x1="974.7" y1="392.3" x2="1430.4" y2="392.3" stroke="#000" stroke-width="2.5" stroke-dasharray="3.2 3.5" stroke-linecap="round"/>
<path d="M975.8,193.9 L977.7,178.5 L979.1,208.1 L981.5,223.5 L983.4,189.2 L984.8,182.1 L986.2,211.7 L987.6,228.2 L989.0,177.3 L990.5,139.5 L991.9,189.2 L993.3,211.7 L994.7,191.5 L996.1,208.1 L997.6,178.5 L999.0,186.8 L1000.4,206.9 L1002.3,156.0 L1004.2,177.3 L1005.6,191.5 L1007.0,177.3 L1008.4,193.9 L1009.9,172.6 L1011.3,184.4 L1012.7,171.4 L1014.1,189.2 L1016.0,169.1 L1017.4,186.8 L1018.9,206.9 L1020.8,165.5 L1022.2,191.5 L1024.1,165.5 L1025.5,165.5 L1026.9,191.5 L1028.3,205.7 L1029.8,186.8 L1031.2,178.5 L1032.6,208.1 L1034.0,192.7 L1035.4,205.7 L1037.3,231.8 L1039.2,238.9 L1041.1,224.7 L1042.5,191.5 L1044.0,222.3 L1045.4,198.6 L1046.8,210.5 L1048.2,180.9 L1049.6,189.2 L1051.1,175.0 L1052.5,193.9 L1053.9,216.4 L1055.3,177.3 L1056.7,203.4 L1058.2,180.9 L1059.6,205.7 L1061.0,182.1 L1062.4,198.6 L1064.3,170.2 L1065.7,191.5 L1067.1,178.5 L1068.6,206.9 L1070.0,186.8 L1071.4,177.3 L1072.8,203.4 L1074.2,186.8 L1075.7,169.1 L1077.1,185.6 L1078.5,211.7 L1079.9,233.0 L1081.3,189.2 L1082.8,172.6 L1084.2,192.7 L1085.6,172.6 L1087.0,206.9 L1088.4,185.6 L1089.9,191.5 L1091.3,227.0 L1091.7,189.2 L1093.2,172.6 L1094.6,198.6 L1096.0,212.8 L1097.9,188.0 L1099.3,203.4 L1100.7,208.1 L1102.1,186.8 L1103.6,166.7 L1105.0,192.7 L1106.4,219.9 L1108.8,247.2 L1110.2,208.1 L1111.6,185.6 L1113.0,162.0 L1114.5,184.4 L1115.9,211.7 L1117.3,201.0 L1118.7,186.8 L1120.1,206.9 L1121.6,151.3 L1123.0,184.4 L1124.4,208.1 L1125.8,152.5 L1127.2,183.3 L1128.7,165.5 L1130.1,150.1 L1131.5,169.1 L1132.9,157.2 L1134.3,178.5 L1135.8,165.5 L1137.2,180.9 L1138.6,186.8 L1140.0,214.0 L1141.4,182.1 L1142.9,201.0 L1144.3,166.7 L1145.7,189.2 L1147.1,170.2 L1148.5,160.8 L1150.0,144.2 L1151.4,179.7 L1152.8,205.7 L1154.2,173.8 L1155.6,156.0 L1157.1,188.0 L1158.5,198.6 L1159.9,185.6 L1161.3,190.4 L1162.7,160.8 L1164.2,146.6 L1165.6,158.4 L1167.0,191.5 L1168.4,222.3 L1169.8,233.0 L1171.3,208.1 L1172.7,185.6 L1174.1,198.6 L1175.5,160.8 L1176.9,191.5 L1178.4,224.7 L1179.8,237.7 L1181.2,210.5 L1182.6,178.5 L1184.0,162.0 L1185.5,185.6 L1186.9,180.9 L1188.3,189.2 L1189.7,180.9 L1191.1,191.5 L1192.6,212.8 L1194.0,185.6 L1195.4,166.7 L1196.8,182.1 L1198.2,210.5 L1199.7,167.9 L1201.1,146.6 L1202.5,132.4 L1203.9,167.9 L1205.3,215.2 L1206.3,189.2 L1207.7,163.1 L1209.1,185.6 L1210.5,171.4 L1211.9,154.9 L1213.4,189.2 L1214.8,209.3 L1216.7,170.2 L1218.1,193.9 L1219.5,210.5 L1220.9,198.6 L1222.4,186.8 L1223.8,176.2 L1225.2,192.7 L1226.6,162.0 L1228.0,186.8 L1229.5,216.4 L1230.9,185.6 L1232.3,201.0 L1233.7,186.8 L1235.1,196.3 L1236.6,191.5 L1238.0,173.8 L1239.4,198.6 L1240.8,212.8 L1242.2,193.9 L1243.7,177.3 L1245.1,160.8 L1246.5,180.9 L1247.9,171.4 L1249.3,143.0 L1250.8,156.0 L1252.2,180.9 L1253.6,186.8 L1255.0,170.2 L1256.4,154.9 L1257.9,175.0 L1259.3,198.6 L1260.7,159.6 L1262.1,185.6 L1263.5,198.6 L1265.0,156.0 L1266.4,184.4 L1267.8,206.9 L1269.2,189.2 L1270.6,177.3 L1272.1,164.3 L1273.5,189.2 L1274.9,172.6 L1276.3,180.9 L1277.7,151.3 L1279.2,180.9 L1280.6,170.2 L1282.0,152.5 L1283.4,186.8 L1284.8,208.1 L1285.3,235.3 L1287.2,198.6 L1288.6,210.5 L1290.0,223.5 L1291.5,189.2 L1292.9,159.6 L1294.3,145.4 L1295.7,177.3 L1297.1,164.3 L1298.6,216.4 L1299.5,163.1 L1300.9,189.2 L1302.4,205.7 L1303.8,185.6 L1305.2,201.0 L1306.6,217.6 L1308.0,196.3 L1309.5,212.8 L1310.9,192.7 L1312.3,172.6 L1313.7,193.9 L1315.1,173.8 L1316.6,184.4 L1318.0,217.6 L1319.4,191.5 L1320.8,167.9 L1321.3,166.7 L1322.7,186.8 L1324.1,167.9 L1326.0,160.8 L1327.4,184.4 L1328.8,172.6 L1330.3,185.6 L1331.7,186.8 L1333.1,195.1 L1334.5,201.0 L1335.9,184.4 L1337.4,176.2 L1338.8,196.3 L1340.2,179.7 L1341.6,201.0 L1343.0,182.1 L1344.5,201.0 L1345.9,212.8 L1347.3,198.6 L1348.7,219.9 L1350.1,201.0 L1351.6,180.9 L1353.0,191.5 L1354.4,180.9 L1355.8,173.8 L1357.2,172.6 L1358.7,191.5 L1360.1,179.7 L1361.5,217.6 L1362.9,196.3 L1364.3,191.5 L1365.8,205.7 L1367.2,192.7 L1368.6,215.2 L1370.0,189.2 L1371.4,198.6 L1372.9,171.4 L1374.3,205.7 L1375.7,191.5 L1377.1,165.5 L1378.5,162.0 L1380.0,189.2 L1380.9,163.1 L1382.3,191.5 L1383.7,205.7 L1385.2,184.4 L1386.6,178.5 L1388.0,214.0 L1389.4,189.2 L1390.8,198.6 L1392.3,189.2 L1393.7,212.8 L1395.1,165.5 L1396.5,165.5 L1397.9,196.3 L1399.4,211.7 L1400.8,178.5 L1402.2,191.5 L1403.6,167.9 L1405.0,186.8 L1406.5,166.7 L1407.9,195.1 L1409.3,215.2 L1410.7,191.5 L1412.1,169.1 L1413.6,167.9 L1415.0,189.2 L1416.4,175.0 L1417.8,218.8 L1419.2,184.4 L1420.7,210.5 L1422.1,169.1 L1423.5,208.1 L1424.9,201.0 L1426.3,234.1 L1427.8,205.7 L1428.7,177.3" fill="none" stroke="#39b54a" stroke-width="3.5" stroke-linejoin="round" stroke-linecap="round"/>
<path d="M976.4,314.8 L977.5,294.3 L979.1,323.0 L980.2,340.8 L981.3,306.6 L982.9,334.0 L984.6,343.5 L985.7,329.9 L986.8,334.0 L988.4,357.2 L990.0,320.3 L991.1,293.0 L992.8,316.2 L994.4,295.7 L996.0,288.9 L997.7,314.8 L999.3,339.4 L1001.0,309.4 L1002.6,347.6 L1004.2,316.2 L1005.9,297.1 L1007.5,331.2 L1009.2,309.4 L1010.8,323.0 L1013.0,336.7 L1014.6,316.2 L1016.3,335.3 L1017.9,317.6 L1019.5,331.2 L1021.2,310.7 L1022.8,323.0 L1024.5,308.0 L1026.1,329.9 L1027.7,317.6 L1029.4,332.6 L1031.0,313.5 L1032.7,316.2 L1034.3,301.2 L1035.9,323.0 L1037.6,343.5 L1039.2,325.8 L1040.9,317.6 L1042.5,310.7 L1044.1,320.3 L1045.8,299.8 L1046.9,286.2 L1048.5,320.3 L1049.6,339.4 L1051.2,301.2 L1052.9,284.8 L1054.5,306.6 L1056.2,318.9 L1057.8,301.2 L1059.4,261.6 L1061.1,290.3 L1062.7,324.4 L1064.3,316.2 L1066.0,335.3 L1068.2,362.7 L1069.8,334.0 L1071.5,321.7 L1073.1,336.7 L1074.7,350.4 L1076.4,331.2 L1078.0,339.4 L1079.7,321.7 L1080.7,306.6 L1082.4,353.1 L1084.0,336.7 L1085.7,327.1 L1087.3,351.7 L1088.9,334.0 L1090.6,350.4 L1091.9,342.2 L1093.6,318.9 L1095.2,334.0 L1096.8,359.9 L1098.5,375.0 L1100.1,342.2 L1101.8,366.8 L1103.4,349.0 L1105.0,361.3 L1106.7,336.7 L1108.3,362.7 L1110.0,339.4 L1111.6,354.5 L1113.2,344.9 L1114.9,331.2 L1116.5,349.0 L1118.1,339.4 L1119.8,355.8 L1121.4,361.3 L1123.1,370.9 L1124.7,373.6 L1126.3,357.2 L1128.0,340.8 L1129.6,339.4 L1131.3,354.5 L1132.9,342.2 L1134.5,359.9 L1136.2,379.0 L1137.8,355.8 L1139.5,369.5 L1141.1,349.0 L1142.7,346.3 L1144.4,331.2 L1146.0,347.6 L1147.7,372.2 L1149.3,347.6 L1150.9,366.8 L1152.6,388.6 L1154.2,346.3 L1155.9,379.0 L1157.5,361.3 L1159.1,353.1 L1160.8,336.7 L1162.4,346.3 L1164.0,358.6 L1165.7,346.3 L1167.3,361.3 L1169.0,395.4 L1170.6,373.6 L1172.2,358.6 L1173.9,339.4 L1175.5,359.9 L1177.2,342.2 L1178.8,327.1 L1180.4,339.4 L1182.1,327.1 L1183.7,349.0 L1185.4,366.8 L1187.0,346.3 L1188.6,347.6 L1190.3,354.5 L1191.9,359.9 L1193.6,380.4 L1195.2,336.7 L1196.8,336.7 L1198.5,359.9 L1200.1,380.4 L1201.8,346.3 L1203.4,317.6 L1205.0,316.2 L1206.9,366.8 L1208.6,358.6 L1210.2,342.2 L1211.8,369.5 L1213.5,358.6 L1215.1,334.0 L1216.8,331.2 L1218.4,347.6 L1220.0,331.2 L1221.7,342.2 L1223.3,355.8 L1225.0,369.5 L1226.6,358.6 L1228.2,342.2 L1229.9,338.1 L1231.5,361.3 L1233.1,369.5 L1234.8,355.8 L1236.4,349.0 L1238.1,334.0 L1239.7,353.1 L1241.3,355.8 L1243.0,379.0 L1244.6,361.3 L1246.3,380.4 L1247.9,369.5 L1249.5,383.1 L1251.2,361.3 L1252.8,332.6 L1254.5,350.4 L1256.1,361.3 L1257.7,372.2 L1259.4,361.3 L1261.0,350.4 L1262.7,366.8 L1264.3,379.0 L1265.9,361.3 L1267.6,344.9 L1269.2,361.3 L1270.9,344.9 L1272.5,332.6 L1274.1,350.4 L1275.8,372.2 L1277.4,336.7 L1279.0,358.6 L1280.7,347.6 L1282.3,334.0 L1284.0,344.9 L1285.6,331.2 L1287.2,349.0 L1288.9,334.0 L1290.0,321.7 L1291.6,344.9 L1293.3,331.2 L1294.9,325.8 L1296.5,361.3 L1298.2,309.4 L1299.8,313.5 L1301.5,342.2 L1303.1,334.0 L1304.7,346.3 L1306.4,355.8 L1308.0,342.2 L1309.7,314.8 L1311.3,361.3 L1312.9,329.9 L1314.6,354.5 L1316.2,331.2 L1317.8,339.4 L1319.5,331.2 L1320.3,353.1 L1321.9,332.6 L1323.6,361.3 L1325.2,353.1 L1326.8,366.8 L1328.5,380.4 L1330.1,361.3 L1331.8,339.4 L1333.4,359.9 L1335.0,342.2 L1336.7,361.3 L1338.3,339.4 L1340.0,346.3 L1341.6,334.0 L1343.2,350.4 L1344.9,327.1 L1346.5,334.0 L1348.1,355.8 L1349.8,325.8 L1351.4,358.6 L1353.1,377.7 L1354.7,361.3 L1356.3,353.1 L1358.0,344.9 L1359.6,332.6 L1361.3,317.6 L1362.9,342.2 L1364.5,355.8 L1366.2,334.0 L1367.8,331.2 L1369.5,349.0 L1371.1,331.2 L1372.7,324.4 L1374.4,346.3 L1376.0,334.0 L1377.7,339.4 L1379.3,355.8 L1380.9,379.0 L1382.6,339.4 L1384.2,320.3 L1385.9,334.0 L1387.5,342.2 L1389.1,351.7 L1390.8,369.5 L1392.4,342.2 L1394.0,366.8 L1395.7,380.4 L1397.3,355.8 L1399.0,323.0 L1400.6,342.2 L1402.2,357.2 L1403.9,343.5 L1405.5,373.6 L1407.2,355.8 L1408.8,347.6 L1410.4,336.7 L1412.1,342.2 L1413.7,329.9 L1415.4,344.9 L1417.0,331.2 L1418.6,327.1 L1420.3,342.2 L1421.9,369.5 L1423.6,347.6 L1425.2,366.8 L1426.8,339.4 L1428.5,331.2" fill="none" stroke="#ed1c24" stroke-width="3.5" stroke-linejoin="round" stroke-linecap="round"/>
<path d="M974.7,457.4 L974.7,1.3 L1430.4,1.3 L1430.4,457.4 Z" fill="none" stroke="#000" stroke-width="2.9" stroke-linejoin="miter"/>
<g stroke="#000" stroke-width="2.7" stroke-linecap="round"><line x1="970.4000000000001" y1="1.3" x2="974.7" y2="1.3"/><line x1="965.7" y1="66.5" x2="974.7" y2="66.5"/><line x1="970.4000000000001" y1="131.6" x2="974.7" y2="131.6"/><line x1="965.7" y1="196.8" x2="974.7" y2="196.8"/><line x1="965.7" y1="261.6" x2="974.7" y2="261.6"/><line x1="970.4000000000001" y1="326.8" x2="974.7" y2="326.8"/><line x1="965.7" y1="392.0" x2="974.7" y2="392.0"/><line x1="970.4000000000001" y1="457.4" x2="974.7" y2="457.4"/><line x1="974.7" y1="457.4" x2="974.7" y2="461.7"/><line x1="1065.8" y1="457.4" x2="1065.8" y2="466.0"/><line x1="1157.0" y1="457.4" x2="1157.0" y2="461.7"/><line x1="1248.1" y1="457.4" x2="1248.1" y2="466.0"/><line x1="1339.3" y1="457.4" x2="1339.3" y2="461.7"/><line x1="1430.4" y1="457.4" x2="1430.4" y2="466.0"/></g>
<text x="952.2" y="76.8" text-anchor="end">5</text>
<text x="952.2" y="207.10000000000002" text-anchor="end">0</text>
<text x="952.2" y="271.90000000000003" text-anchor="end">5</text>
<text x="952.2" y="402.3" text-anchor="end">0</text>
<text x="1065.8" y="500.8" text-anchor="middle">0</text>
<text x="1248.1" y="500.8" text-anchor="middle">100</text>
<text x="1430.4" y="500.8" text-anchor="middle">200</text>
<text x="1202.6" y="542.1" text-anchor="middle">Time (s)</text>
<text transform="translate(912.2,228.9) rotate(-90)" text-anchor="middle">Fluorescence (kcounts)</text>
<text x="1404.8000000000002" y="37.6" text-anchor="end">Acceptor (green)</text>
<text x="1404.8000000000002" y="258.7" text-anchor="end">Acceptor (red)</text>
</g>
</svg></body></html>
